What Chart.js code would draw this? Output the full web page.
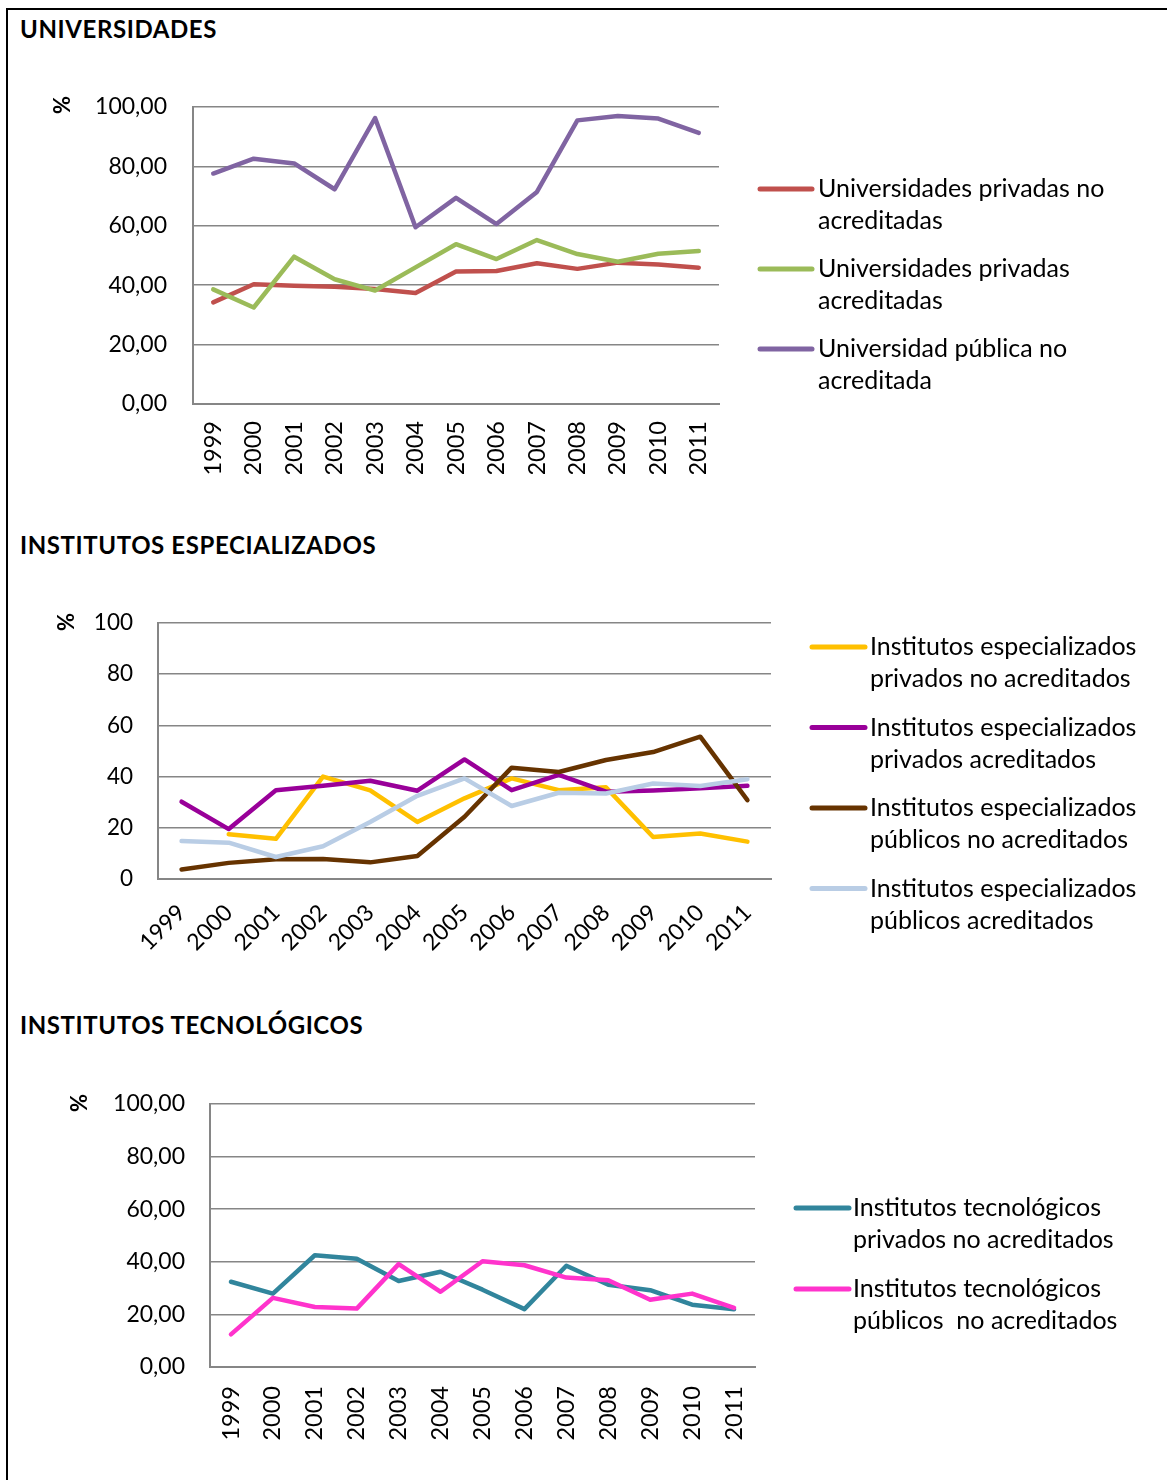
<!DOCTYPE html>
<html><head><meta charset="utf-8">
<script src="https://cdn.jsdelivr.net/npm/chart.js@4.4.0/dist/chart.umd.min.js"></script>
<style>
html,body{margin:0;padding:0;background:#fff;}
body{width:1167px;height:1480px;position:relative;overflow:hidden;font-family:Lato,sans-serif;}
#frame{position:absolute;left:6px;top:8px;width:1200px;height:1500px;border-left:2px solid #000;border-top:2px solid #000;}
.title{position:absolute;left:20px;font-weight:bold;font-size:24px;line-height:24px;color:#000;letter-spacing:0.6px;white-space:nowrap;}
canvas{position:absolute;left:0;}
</style></head><body>
<div id="frame"></div>
<div class="title" style="top:17px">UNIVERSIDADES</div>
<div class="title" style="top:533px">INSTITUTOS ESPECIALIZADOS</div>
<div class="title" style="top:1013px">INSTITUTOS TECNOLÓGICOS</div>
<canvas id="c1" width="1167" height="440" style="top:60px"></canvas>
<canvas id="c2" width="1167" height="400" style="top:580px"></canvas>
<canvas id="c3" width="1167" height="420" style="top:1060px"></canvas>
<script>
// ---- data ----
const years = ['1999','2000','2001','2002','2003','2004','2005','2006','2007','2008','2009','2010','2011'];

const uniPrivNoAcred = [34.2,40.3,39.8,39.5,38.7,37.4,44.6,44.8,47.4,45.5,47.6,47.0,45.9];
const uniPrivAcred   = [38.6,32.5,49.6,42.0,38.2,46.0,53.8,48.8,55.2,50.5,47.9,50.6,51.5];
const uniPubNoAcred  = [77.6,82.6,81.0,72.3,96.3,59.5,69.4,60.6,71.4,95.5,97.0,96.1,91.3];
const uniNames = [['Universidades privadas no','acreditadas'],['Universidades privadas','acreditadas'],['Universidad pública no','acreditada']];
const uniYTicks = ['0,00','20,00','40,00','60,00','80,00','100,00'];

const iePrivNoAcred = [null,17.5,15.7,40.0,34.6,22.3,31.5,39.3,34.7,35.8,16.4,17.8,14.6];
const iePrivAcred   = [30.2,19.5,34.7,36.4,38.4,34.5,46.7,34.7,40.7,34.1,34.6,35.4,36.4];
const iePubNoAcred  = [3.7,6.3,7.7,7.8,6.5,9.0,24.3,43.5,41.8,46.5,49.6,55.6,30.8];
const iePubAcred    = [14.8,14.2,8.6,12.8,22.3,32.5,39.3,28.5,33.7,33.4,37.3,36.3,39.0];
const ieNames = [['Institutos especializados','privados no acreditados'],['Institutos especializados','privados acreditados'],['Institutos especializados','públicos no acreditados'],['Institutos especializados','públicos acreditados']];
const ieYTicks = ['0','20','40','60','80','100'];

const itPrivNoAcred = [32.4,27.9,42.5,41.2,32.7,36.2,29.4,22.0,38.5,31.3,29.2,23.7,22.0];
const itPubNoAcred  = [12.4,26.3,22.8,22.2,39.1,28.6,40.2,38.7,34.0,33.0,25.6,27.9,22.5];
const itNames = [['Institutos tecnológicos','privados no acreditados'],['Institutos tecnológicos','públicos  no acreditados']];
const itYTicks = ['0,00','20,00','40,00','60,00','80,00','100,00'];

const yAxisTitle = '%';

// ---- rendering ----
Chart.defaults.font.family = 'Lato';
Chart.defaults.color = '#000';
const GRID = '#868686';

function makeLegend(id, names, cfg){
  return {
    id: id,
    afterDraw(chart){
      const ctx = chart.ctx;
      ctx.save();
      chart.data.datasets.forEach((ds, i) => {
        const y = cfg.y0 + i * cfg.gap;
        ctx.strokeStyle = ds.borderColor;
        ctx.lineWidth = 5; ctx.lineCap = 'round';
        ctx.beginPath(); ctx.moveTo(cfg.x1, y); ctx.lineTo(cfg.x2, y); ctx.stroke();
        ctx.fillStyle = '#000';
        ctx.font = cfg.font;
        ctx.textBaseline = 'middle'; ctx.textAlign = 'left';
        names[i].forEach((t, j) => ctx.fillText(t, cfg.tx, y + j * cfg.lineGap));
      });
      // rotated y-axis title
      ctx.translate(cfg.pctX, cfg.pctY);
      ctx.rotate(-Math.PI / 2);
      ctx.font = 'bold 22px Lato';
      ctx.textAlign = 'center'; ctx.textBaseline = 'middle';
      ctx.fillText(yAxisTitle, 0, 0);
      ctx.restore();
    }
  };
}

function build(canvasId, series, colors, names, yTicks, L){
  const n = series.length;
  const datasets = series.map((d, i) => ({
    label: names[i].join(' '),
    data: d,
    borderColor: colors[i],
    backgroundColor: colors[i],
    borderWidth: 4.5,
    pointRadius: 0,
    borderJoinStyle: 'round',
    borderCapStyle: 'round',
    tension: 0,
    spanGaps: false,
    order: n - i
  }));
  new Chart(document.getElementById(canvasId), {
    type: 'line',
    data: { labels: years, datasets },
    options: {
      responsive: false,
      animation: false,
      devicePixelRatio: 1,
      layout: { padding: { left: L.left, right: L.right, top: L.top, bottom: L.bottom } },
      plugins: { legend: { display: false }, tooltip: { enabled: false } },
      scales: {
        x: {
          offset: true,
          grid: { display: false, drawTicks: false },
          border: { display: true, color: GRID, width: 2 },
          ticks: { autoSkip: false, minRotation: L.rot, maxRotation: L.rot, padding: L.xpad, font: { size: L.xfs } },
          afterFit: s => { s.height = L.xh; }
        },
        y: {
          min: 0, max: 100,
          ticks: { stepSize: 20, padding: L.ypad, font: { size: L.yfs }, callback: (v, idx) => yTicks[idx] },
          grid: { color: GRID, lineWidth: 1.6, drawTicks: false },
          border: { display: true, color: GRID, width: 2 },
          afterFit: s => { s.width = L.yw; }
        }
      }
    },
    plugins: [makeLegend('lg_' + canvasId, names, L.legend)]
  });
}

// Chart 1: canvas top 60; plot x 193-719, y 107-404
build('c1', [uniPrivNoAcred, uniPrivAcred, uniPubNoAcred], ['#C0504D','#9BBB59','#8064A2'], uniNames, uniYTicks,
  { left: 50, right: 1167-719, top: 47, bottom: 26, yw: 193-50, xh: 70, rot: 90, xpad: 17, xfs: 23.5, yfs: 23, ypad: 26,
    legend: { x1: 760, x2: 812, tx: 818, y0: 189-60, gap: 80, lineGap: 32, font: '25px Lato', pctX: 63, pctY: 105-60 } });

// Chart 2: canvas top 580; plot x 158-771, y 623-879
build('c2', [iePrivNoAcred, iePrivAcred, iePubNoAcred, iePubAcred], ['#FFC000','#990099','#663300','#B9CDE5'], ieNames, ieYTicks,
  { left: 54, right: 1167-771, top: 43, bottom: 21, yw: 158-54, xh: 80, rot: 45, xpad: 20, xfs: 23, yfs: 22.5, ypad: 25,
    legend: { x1: 812, x2: 865, tx: 870, y0: 647-580, gap: 80.5, lineGap: 32, font: '25px Lato', pctX: 67, pctY: 622-580 } });

// Chart 3: canvas top 1060; plot x 210-755, y 1104-1367
build('c3', [itPrivNoAcred, itPubNoAcred], ['#31859C','#FF33CC'], itNames, itYTicks,
  { left: 67, right: 1167-755, top: 44, bottom: 33, yw: 210-67, xh: 80, rot: 90, xpad: 19, xfs: 23.5, yfs: 23, ypad: 25,
    legend: { x1: 796, x2: 849, tx: 853, y0: 1208-1060, gap: 81, lineGap: 32, font: '25px Lato', pctX: 80, pctY: 1103-1060 } });
</script>
</body></html>
